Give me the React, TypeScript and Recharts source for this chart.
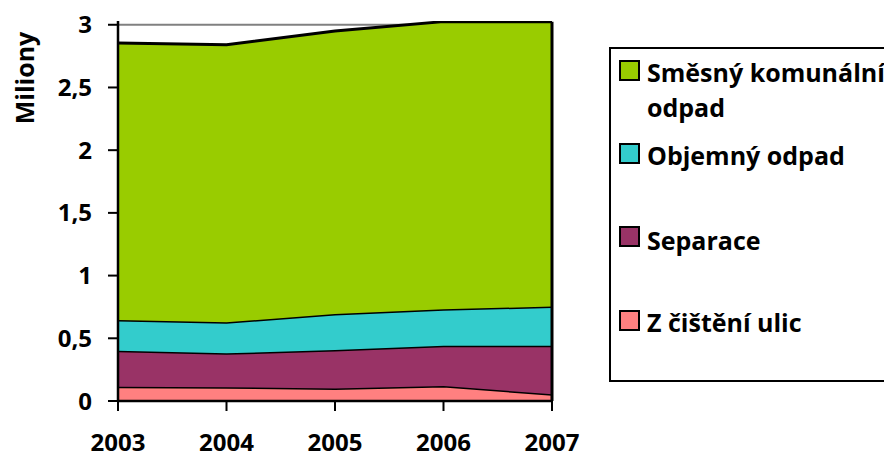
import React from "react";
import {
  Area,
  AreaChart,
  CartesianGrid,
  Legend,
  ReferenceLine,
  XAxis,
  YAxis,
} from "recharts";

// Komunální odpad podle druhu, v milionech tun
const years = ["2003", "2004", "2005", "2006", "2007"];
const zCisteniUlic = [0.114, 0.11, 0.1, 0.12, 0.053];
const separace = [0.286, 0.27, 0.307, 0.321, 0.388];
const objemnyOdpad = [0.246, 0.248, 0.287, 0.291, 0.312];
const smesnyOdpad = [2.209, 2.213, 2.256, 2.293, 2.272];
const yTicks = [0, 0.5, 1, 1.5, 2, 2.5, 3];

const FONT = "'Open Sans', sans-serif";

// bottom-up stacking order
const SERIES = [
  { key: "ulice", name: "Z čištění ulic", color: "#FF8080" },
  { key: "separace", name: "Separace", color: "#993366" },
  { key: "objemny", name: "Objemný odpad", color: "#33CCCC" },
  { key: "smesny", name: "Směsný komunální odpad", color: "#99CC00" },
];

const data = years.map((year, i) => ({
  year,
  ulice: zCisteniUlic[i],
  separace: separace[i],
  objemny: objemnyOdpad[i],
  smesny: smesnyOdpad[i],
}));

const last = years.length - 1;
const lastTotal =
  zCisteniUlic[last] + separace[last] + objemnyOdpad[last] + smesnyOdpad[last];

const formatTick = (v: number) => String(v).replace(".", ",");

// Legend items: square swatch + label, label may wrap to 2 lines
const LEGEND_ROWS = [
  { key: "smesny", lines: ["Směsný komunální", "odpad"], box: 14, base: 35 },
  { key: "objemny", lines: ["Objemný odpad"], box: 97, base: 118 },
  { key: "separace", lines: ["Separace"], box: 180, base: 203 },
  { key: "ulice", lines: ["Z čištění ulic"], box: 264, base: 285 },
];

function LegendBox() {
  return (
    <svg width={300} height={336} style={{ display: "block" }}>
      <rect x={1} y={1} width={310} height={333} fill="#fff" stroke="#000" strokeWidth={2} />
      {LEGEND_ROWS.map((row) => {
        const s = SERIES.find((x) => x.key === row.key)!;
        return (
          <g key={row.key}>
            <rect x={11} y={row.box} width={19} height={19} fill={s.color} stroke="#000" strokeWidth={2} />
            <text
              x={38}
              y={row.base}
              fontFamily={FONT}
              fontWeight={700}
              fontSize={25}
              fill="#000"
            >
              {row.lines.map((line, j) => (
                <tspan key={j} x={38} dy={j === 0 ? 0 : 35}>
                  {line}
                </tspan>
              ))}
            </text>
          </g>
        );
      })}
    </svg>
  );
}

function YLabel({ viewBox }: any) {
  const x = viewBox.x + 34;
  const y = viewBox.y + 57;
  return (
    <text
      x={x}
      y={y}
      transform={`rotate(-90 ${x} ${y})`}
      textAnchor="middle"
      fontFamily={FONT}
      fontWeight={700}
      fontSize={25}
      fill="#000"
    >
      Miliony
    </text>
  );
}

export default function App() {
  const tickStyle = { fontFamily: FONT, fontWeight: 700, fontSize: 24, fill: "#000" };
  return (
    <div
      style={{
        position: "absolute",
        left: 0,
        top: 0,
        width: 884,
        height: 459,
        overflow: "hidden",
        background: "#fff",
      }}
    >
      <AreaChart
        width={884}
        height={459}
        data={data}
        margin={{ top: 21, right: 332, bottom: 0, left: 0 }}
      >
        <CartesianGrid
          vertical={false}
          horizontalValues={[3]}
          stroke="#808080"
          strokeWidth={2}
        />
        <XAxis
          dataKey="year"
          height={58}
          tickSize={10}
          tickMargin={23}
          tick={tickStyle}
          axisLine={{ stroke: "#000", strokeWidth: 2.5 }}
          tickLine={{ stroke: "#000", strokeWidth: 2 }}
          interval={0}
        />
        <YAxis
          width={118}
          domain={[0, 3.03]}
          ticks={yTicks}
          allowDataOverflow
          tickFormatter={formatTick}
          tickSize={10}
          tickMargin={16}
          tick={tickStyle}
          axisLine={{ stroke: "#000", strokeWidth: 2.5 }}
          tickLine={{ stroke: "#000", strokeWidth: 2 }}
          label={<YLabel />}
        />
        {SERIES.map((s) => (
          <Area
            key={s.key}
            type="linear"
            dataKey={s.key}
            name={s.name}
            stackId="odpad"
            fill={s.color}
            fillOpacity={1}
            stroke="#000"
            strokeWidth={3}
            isAnimationActive={false}
          />
        ))}
        <ReferenceLine
          segment={[
            { x: years[last], y: 0 },
            { x: years[last], y: lastTotal },
          ]}
          stroke="#000"
          strokeWidth={3}
        />
        <Legend
          layout="horizontal"
          verticalAlign="middle"
          align="center"
          content={() => <LegendBox />}
          wrapperStyle={{ position: "absolute", left: 609, top: 47, width: 300, height: 336 }}
        />
      </AreaChart>
    </div>
  );
}
